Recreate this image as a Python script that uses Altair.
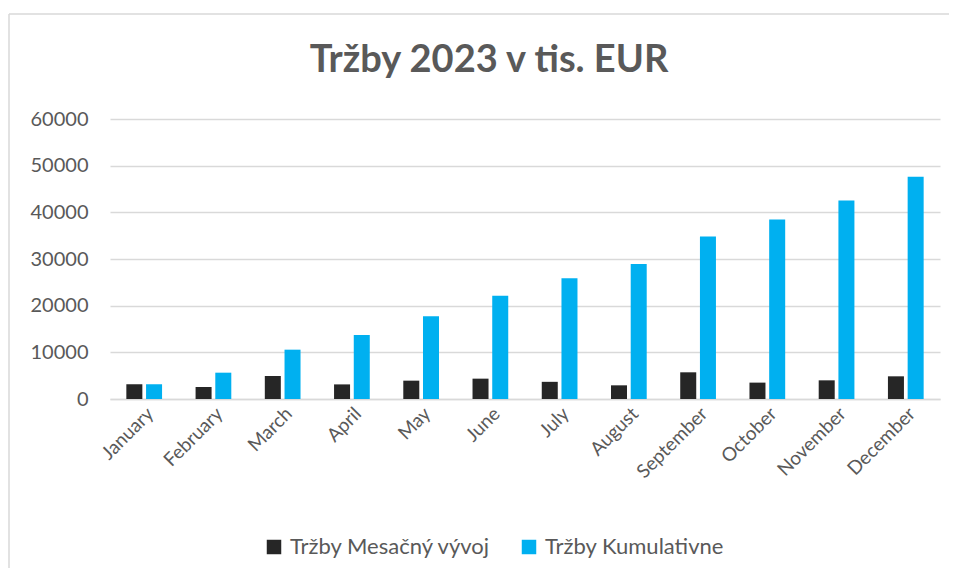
import altair as alt
import pandas as pd

months = ["January", "February", "March", "April", "May", "June", "July",
          "August", "September", "October", "November", "December"]
monthly = [3150, 2570, 4930, 3130, 3930, 4360, 3680, 2930, 5720, 3510, 4000, 4860]
cumulative = [3150, 5640, 10570, 13710, 17710, 22140, 25860, 28930, 34800, 38440, 42510, 47650]
series = ["Tržby Mesačný vývoj", "Tržby Kumulativne"]
colors = ["#262626", "#00B0F0"]
y_ticks = [0, 10000, 20000, 30000, 40000, 50000, 60000]
title_text = "Tržby 2023 v tis. EUR"

rows = []
for m, a, c in zip(months, monthly, cumulative):
    rows.append({"month": m, "series": series[0], "value": a})
    rows.append({"month": m, "series": series[1], "value": c})
df = pd.DataFrame(rows)

FONT = "Lato"
TXT = "#595959"
GRID = "#D9D9D9"

frame_src = pd.DataFrame({"k": [0]})
border_top = alt.Chart(frame_src).mark_rule(color=GRID, strokeWidth=1.5).encode(
    x=alt.value(-101), x2=alt.value(839), y=alt.value(-105)
)
border_left = alt.Chart(frame_src).mark_rule(color=GRID, strokeWidth=1.5).encode(
    x=alt.value(-101), y=alt.value(-105), y2=alt.value(449)
)

bars = alt.Chart(df).mark_bar().encode(
    x=alt.X("month:N", sort=months,
            scale=alt.Scale(paddingInner=0.484, paddingOuter=0.236),
            axis=alt.Axis(title=None, labelAngle=-45, labelFontSize=19, labelColor=TXT,
                          labelFont=FONT, ticks=False, domainColor=GRID, domainWidth=1.5,
                          labelPadding=5, grid=False)),
    xOffset=alt.XOffset("series:N", sort=series,
                        scale=alt.Scale(paddingInner=0.188, paddingOuter=0)),
    y=alt.Y("value:Q", scale=alt.Scale(domain=[0, 60000]),
            axis=alt.Axis(values=y_ticks, format="d", title=None, ticks=False, domain=False,
                          gridColor=GRID, gridWidth=1.5, labelPadding=22, labelFontSize=20,
                          labelColor=TXT, labelFont=FONT)),
    color=alt.Color("series:N", sort=series,
                    scale=alt.Scale(domain=series, range=colors),
                    legend=alt.Legend(title=None, orient="none", legendX=153, legendY=417,
                                      direction="horizontal", symbolType="square",
                                      symbolSize=210, symbolStrokeWidth=0,
                                      labelFont=FONT, labelFontSize=22, labelColor=TXT,
                                      labelLimit=400, labelOffset=5, columnPadding=27,
                                      padding=0))
)

chart = alt.layer(border_top, border_left, bars).properties(
    width=830, height=280,
    autosize=alt.AutoSizeParams(type="none"),
    padding={"left": 102, "top": 111, "right": 9, "bottom": 170},
    title=alt.TitleParams(title_text, font=FONT, fontSize=38, fontWeight="bold",
                          color=TXT, anchor="middle", dx=-36, offset=-67),
).configure_view(stroke=None)

chart.save("out.html", embed_options={"renderer": "svg", "actions": False})
